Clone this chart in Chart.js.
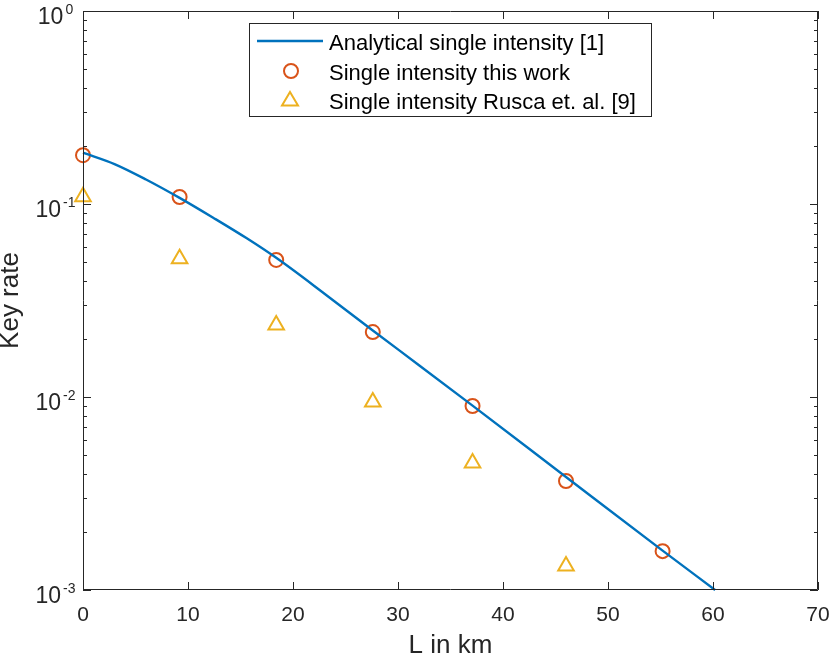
<!DOCTYPE html>
<html>
<head>
<meta charset="utf-8">
<script src="https://cdn.jsdelivr.net/npm/chart.js@4/dist/chart.umd.min.js"></script>
<style>
  html, body { margin: 0; padding: 0; background: #fff; }
  #wrap { width: 830px; height: 659px; }
</style>
</head>
<body>
<div id="wrap"><canvas id="keyRateChart" width="830" height="659"></canvas></div>
<script>
// distances (km) where the simulations were run
var distances = [0, 9.2, 18.4, 27.6, 37.1, 46.0, 55.2];
// key rate, single intensity this work
var thisWorkRate = [0.179, 0.1087, 0.0513, 0.0217, 0.00898, 0.00367, 0.00159];
// key rate, single intensity Rusca et. al. (no point at 55 km)
var ruscaRate = [0.109, 0.052, 0.0236, 0.00942, 0.00455, 0.00133];
// analytical curve
var analyticL = [0, 3, 6, 9.2, 12.4, 15.6, 18.4, 23.0, 27.6, 32.0, 37.1, 46.0, 55.2, 60.2];
var analyticRate = [0.1845, 0.1611, 0.134, 0.1076, 0.0849, 0.0664, 0.0526, 0.0343, 0.0221, 0.01462, 0.00902, 0.00385, 0.0016, 0.001];
var xTicks = [0, 10, 20, 30, 40, 50, 60, 70];
var yDecades = [0, -1, -2, -3];

var labels = ['Analytical single intensity [1]', 'Single intensity this work', 'Single intensity Rusca et. al. [9]'];
var blue = '#0072BD', orange = '#D95319', yellow = '#EDB120';
var FONT = '"Liberation Sans", Arial, Helvetica, sans-serif';

function pairs(xs, ys) {
    return ys.map(function (v, i) { return { x: xs[i], y: v }; });
}

// box, inward ticks, log tick labels and legend, MATLAB style
var matlabAxes = {
    id: 'matlabAxes',
    afterDraw: function (chart) {
        var ctx = chart.ctx, a = chart.chartArea;
        var xs = chart.scales.x, ys = chart.scales.y;
        ctx.save();
        ctx.strokeStyle = '#262626';
        ctx.lineWidth = 1;
        ctx.beginPath();
        ctx.rect(a.left + 0.5, a.top + 0.5, a.right - a.left - 1, a.bottom - a.top - 1);
        ctx.stroke();

        ctx.beginPath();
        xTicks.forEach(function (t) {
            var px = Math.round(xs.getPixelForValue(t)) + 0.5;
            ctx.moveTo(px, a.bottom); ctx.lineTo(px, a.bottom - 8);
            ctx.moveTo(px, a.top); ctx.lineTo(px, a.top + 8);
        });
        yDecades.forEach(function (d, i) {
            if (i === yDecades.length - 1) return;
            for (var m = 1; m <= 10; m++) {
                var v = m * Math.pow(10, d - 1);
                var py = Math.round(ys.getPixelForValue(v)) + 0.5;
                var len = (m === 1 || m === 10) ? 8 : 4;
                ctx.moveTo(a.left, py); ctx.lineTo(a.left + len, py);
                ctx.moveTo(a.right, py); ctx.lineTo(a.right - len, py);
            }
        });
        ctx.stroke();

        // y tick labels 10^n
        ctx.fillStyle = '#262626';
        ctx.textBaseline = 'alphabetic';
        ctx.textAlign = 'left';
        yDecades.forEach(function (d) {
            var py = ys.getPixelForValue(Math.pow(10, d));
            var sup = d === 0 ? '0' : '-' + (-d);
            ctx.font = '23px ' + FONT;
            var wb = ctx.measureText('10').width;
            ctx.font = '14px ' + FONT;
            var ws = ctx.measureText(sup).width;
            var left = 55.5 - (wb + 2 + ws) / 2;
            ctx.font = '23px ' + FONT;
            ctx.fillText('10', left, py + 13);
            ctx.font = '14px ' + FONT;
            ctx.fillText(sup, left + wb + 2, py + 3);
        });

        // legend
        var lx = 249.5, ly = 23.5, lw = 402, lh = 93;
        ctx.fillStyle = '#fff';
        ctx.fillRect(lx, ly, lw, lh);
        ctx.strokeStyle = '#262626';
        ctx.lineWidth = 1;
        ctx.strokeRect(lx, ly, lw, lh);
        var rows = [41, 71, 100];
        ctx.font = '22px ' + FONT;
        ctx.textAlign = 'left';
        ctx.textBaseline = 'alphabetic';
        chart.data.datasets.forEach(function (ds, i) {
            var ry = rows[i];
            if (i === 0) {
                ctx.strokeStyle = blue; ctx.lineWidth = 2.4;
                ctx.beginPath(); ctx.moveTo(257, ry); ctx.lineTo(323, ry); ctx.stroke();
            } else if (i === 1) {
                ctx.strokeStyle = orange; ctx.lineWidth = 2;
                ctx.beginPath(); ctx.arc(291, ry, 7, 0, Math.PI * 2); ctx.stroke();
            } else {
                ctx.strokeStyle = yellow; ctx.lineWidth = 2;
                ctx.beginPath();
                ctx.moveTo(290, ry - 8); ctx.lineTo(298, ry + 5.5); ctx.lineTo(282, ry + 5.5);
                ctx.closePath(); ctx.stroke();
            }
            ctx.fillStyle = '#000';
            ctx.fillText(ds.label, 329, ry + 9);
        });
        ctx.restore();
    }
};

var chart = new Chart(document.getElementById('keyRateChart').getContext('2d'), {
    type: 'scatter',
    data: {
        datasets: [{
            label: labels[0],
            data: pairs(analyticL, analyticRate),
            showLine: true,
            borderColor: blue,
            borderWidth: 2.4,
            pointRadius: 0,
            cubicInterpolationMode: 'monotone'
        }, {
            label: labels[1],
            data: pairs(distances, thisWorkRate),
            borderColor: orange,
            backgroundColor: 'rgba(0,0,0,0)',
            borderWidth: 2,
            pointRadius: 7,
            pointStyle: 'circle'
        }, {
            label: labels[2],
            data: pairs(distances, ruscaRate),
            borderColor: yellow,
            backgroundColor: 'rgba(0,0,0,0)',
            borderWidth: 2,
            pointRadius: 9,
            pointStyle: 'triangle'
        }]
    },
    options: {
        responsive: false,
        animation: false,
        clip: false,
        layout: { padding: { top: 11, right: 12, left: 0, bottom: 0 } },
        plugins: { legend: { display: false }, tooltip: { enabled: false } },
        scales: {
            x: {
                type: 'linear', min: 0, max: 70,
                grid: { display: false }, border: { display: false },
                afterBuildTicks: function (s) { s.ticks = xTicks.map(function (v) { return { value: v }; }); },
                afterFit: function (s) { s.height = 69; s.paddingLeft = 0; s.paddingRight = 0; },
                ticks: { color: '#262626', padding: 5, font: { family: FONT, size: 21 }, maxRotation: 0 },
                title: { display: true, text: 'L in km', color: '#262626', padding: { top: 0, bottom: 0 }, font: { family: FONT, size: 26, lineHeight: 1 } }
            },
            y: {
                type: 'logarithmic', min: 0.001, max: 1,
                grid: { display: false }, border: { display: false },
                afterFit: function (s) { s.width = 83; s.paddingTop = 0; s.paddingBottom = 0; },
                ticks: { display: false },
                title: { display: true, text: 'Key rate', color: '#262626', padding: { top: 0, bottom: 0 }, font: { family: FONT, size: 26, lineHeight: 0.85 } }
            }
        }
    },
    plugins: [matlabAxes]
});
</script>
</body>
</html>
